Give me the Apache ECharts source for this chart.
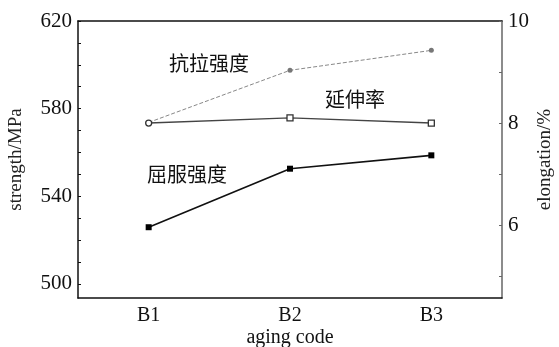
<!DOCTYPE html>
<html><head><meta charset="utf-8">
<script src="https://cdn.jsdelivr.net/npm/echarts@6/dist/echarts.min.js"></script>
<style>html,body{margin:0;padding:0;background:#fff}#c{width:559px;height:347px}</style>
</head><body><div id="c"></div>
<script>
const categories = ['B1', 'B2', 'B3'];
const tensile = [573.7, 597.5, 606.6];
const yieldS = [525.9, 552.6, 558.7];
const elongation = [8.0, 8.1, 8.0];
const leftLabels = [500, 540, 580, 620];
const leftTicks = [500, 510, 520, 530, 540, 550, 560, 570, 580, 590, 600, 610, 620];
const rightLabels = [6, 8, 10];
const rightTicks = [5, 6, 7, 8, 9, 10];

const serif = '"Liberation Serif", "DejaVu Serif", serif';
const cjk = '"Noto Sans CJK SC", serif';
const chart = echarts.init(document.getElementById('c'), null, {renderer: 'canvas'});
chart.setOption({
  animation: false,
  backgroundColor: '#fff',
  grid: {left: 78, right: 57, top: 21, bottom: 49, containLabel: false, outerBoundsMode: 'none'},
  xAxis: [{
    type: 'category', data: categories, boundaryGap: true,
    axisLine: {lineStyle: {color: '#111', width: 1.5}},
    axisTick: {inside: true, alignWithLabel: true, length: 3, lineStyle: {color: '#111'}},
    axisLabel: {color: '#111', fontFamily: serif, fontSize: 20, margin: 8},
    name: 'aging code', nameLocation: 'middle', nameGap: 30, nameMoveOverlap: false,
    nameTextStyle: {color: '#111', fontFamily: serif, fontSize: 20, lineHeight: 20},
    splitLine: {show: false}
  }, {
    type: 'category', data: categories, position: 'top',
    axisLine: {lineStyle: {color: '#111', width: 1.5}},
    axisTick: {show: false}, axisLabel: {show: false}, splitLine: {show: false}
  }],
  yAxis: [{
    type: 'value', min: 493.6, max: 620, position: 'left',
    axisLine: {show: true, lineStyle: {color: '#111', width: 1.5}},
    axisTick: {show: true, inside: true, length: 3, customValues: leftTicks, lineStyle: {color: '#111'}},
    axisLabel: {customValues: leftLabels, color: '#111', fontFamily: serif, fontSize: 21, margin: 6},
    splitLine: {show: false},
    name: 'strength/MPa', nameLocation: 'middle', nameGap: 52, nameRotate: 90, nameMoveOverlap: false,
    nameTextStyle: {color: '#222', fontFamily: serif, fontSize: 19}
  }, {
    type: 'value', min: 4.57, max: 10, position: 'right',
    axisLine: {show: true, lineStyle: {color: '#666', width: 1.5}},
    axisTick: {show: true, inside: true, length: 3, customValues: rightTicks, lineStyle: {color: '#666'}},
    axisLabel: {customValues: rightLabels, color: '#111', fontFamily: serif, fontSize: 21, margin: 6},
    splitLine: {show: false},
    name: 'elongation/%', nameLocation: 'middle', nameGap: 34, nameRotate: 90, nameMoveOverlap: false,
    nameTextStyle: {color: '#222', fontFamily: serif, fontSize: 19}
  }],
  series: [{
    name: '抗拉强度', type: 'line', yAxisIndex: 0, data: tensile,
    lineStyle: {color: '#888', width: 1, type: [4, 2]},
    symbol: 'circle', symbolSize: 5,
    itemStyle: {color: '#777'}
  }, {
    name: '屈服强度', type: 'line', yAxisIndex: 0, data: yieldS,
    lineStyle: {color: '#111', width: 1.6},
    symbol: 'rect', symbolSize: 6,
    itemStyle: {color: '#000'}
  }, {
    name: '延伸率', type: 'line', yAxisIndex: 1,
    data: elongation.map((v, i) => i === 0 ? {value: v, symbol: 'circle'} : v),
    lineStyle: {color: '#444', width: 1.4},
    symbol: 'rect', symbolSize: 6,
    itemStyle: {color: '#fff', borderColor: '#333', borderWidth: 1.3}
  }],
  graphic: [
    {type: 'text', left: 169, top: 53, style: {text: '抗拉强度', font: '20px ' + cjk, fill: '#111'}},
    {type: 'text', left: 325, top: 89, style: {text: '延伸率', font: '20px ' + cjk, fill: '#111'}},
    {type: 'text', left: 147, top: 164, style: {text: '屈服强度', font: '20px ' + cjk, fill: '#111'}}
  ]
});
</script></body></html>
